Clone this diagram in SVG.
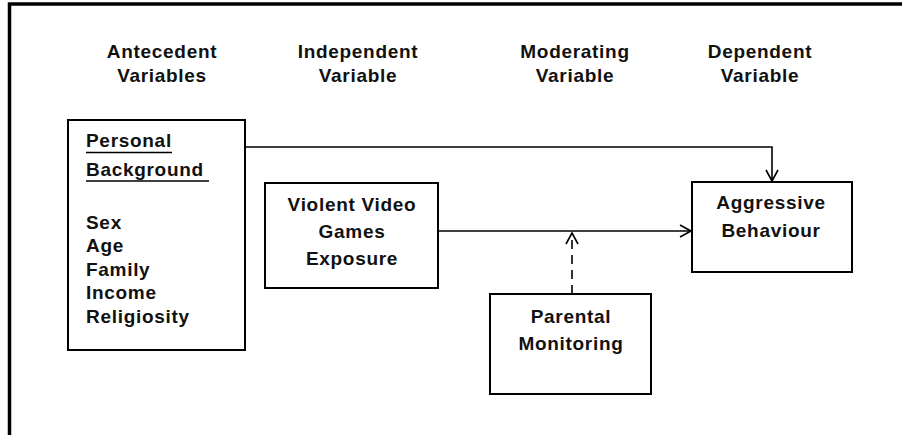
<svg xmlns="http://www.w3.org/2000/svg" width="902" height="435" viewBox="0 0 902 435">
<style>
text{font-family:"Liberation Sans",Arial,sans-serif;font-weight:bold;font-size:19px;letter-spacing:0.7px;fill:#111}
.c{text-anchor:middle}
.box{fill:#fff;stroke:#000;stroke-width:2}
.ln{fill:none;stroke:#000;stroke-width:1.6}
</style>
<defs>
<marker id="ah" markerWidth="14" markerHeight="14" refX="12" refY="7" orient="auto" markerUnits="userSpaceOnUse">
<path d="M1,1 L12,7 L1,13" fill="none" stroke="#000" stroke-width="1.6"/>
</marker>
</defs>
<rect width="902" height="435" fill="#fff"/>
<path d="M9.5,435 V4 H902" fill="none" stroke="#000" stroke-width="3.5"/>
<g id="headers">
<text class="c" x="162" y="58">Antecedent</text><text class="c" x="162" y="82">Variables</text>
<text class="c" x="358" y="58">Independent</text><text class="c" x="358" y="82">Variable</text>
<text class="c" x="575" y="58">Moderating</text><text class="c" x="575" y="82">Variable</text>
<text class="c" x="760" y="58">Dependent</text><text class="c" x="760" y="82">Variable</text>
</g>
<g id="connectors">
<path class="ln" d="M245,147 H772 V181" marker-end="url(#ah)"/>
<path class="ln" d="M438,231 H691" marker-end="url(#ah)"/>
<path class="ln" d="M572,294 V233" stroke-dasharray="9,6" marker-end="url(#ah)"/>
</g>
<g id="personal">
<rect class="box" x="68" y="120" width="177" height="230"/>
<text x="86" y="147">Personal</text>
<line x1="86" y1="152.5" x2="172" y2="152.5" stroke="#000" stroke-width="1.6"/>
<text x="86" y="176">Background</text>
<line x1="86" y1="181" x2="209" y2="181" stroke="#000" stroke-width="1.6"/>
<text x="86" y="229">Sex</text>
<text x="86" y="252">Age</text>
<text x="86" y="276">Family</text>
<text x="86" y="299">Income</text>
<text x="86" y="323">Religiosity</text>
</g>
<g id="violent">
<rect class="box" x="265" y="183" width="173" height="105"/>
<text class="c" x="352" y="211">Violent Video</text>
<text class="c" x="352" y="238">Games</text>
<text class="c" x="352" y="265">Exposure</text>
</g>
<g id="parental">
<rect class="box" x="490" y="294" width="161" height="100"/>
<text class="c" x="571" y="323">Parental</text>
<text class="c" x="571" y="350">Monitoring</text>
</g>
<g id="aggressive">
<rect class="box" x="692" y="182" width="160" height="90"/>
<text class="c" x="771" y="209">Aggressive</text>
<text class="c" x="771" y="237">Behaviour</text>
</g>
</svg>
